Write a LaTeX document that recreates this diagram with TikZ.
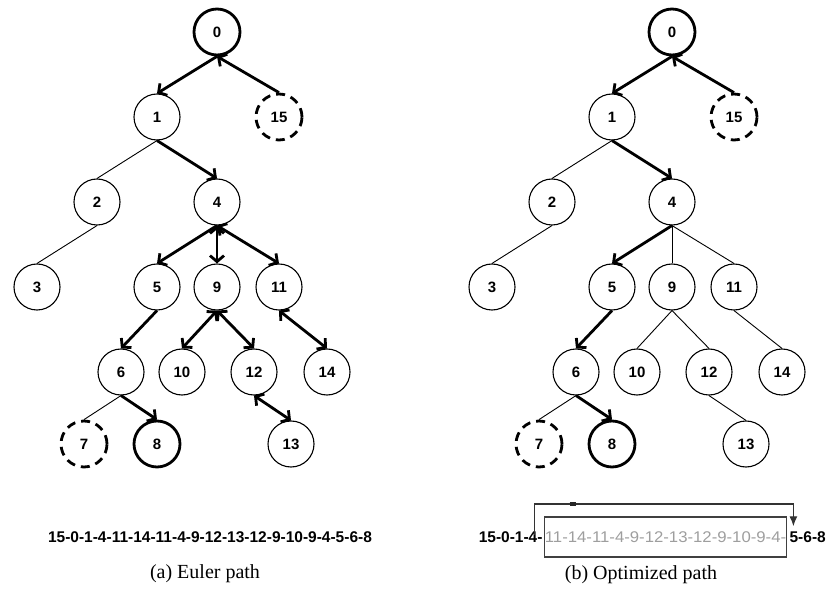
\documentclass[tikz,border=0pt]{standalone}
\usepackage{fontspec}
\usepackage{graphicx}
\setmainfont{Liberation Serif}
\setsansfont{Liberation Sans}
\usetikzlibrary{arrows.meta,calc}

% vertex positions of the tree (shared by both panels)
\newcommand\placevertices{%
  \node[heavy] (0)  at (217,32)  {0};
  \node[vtx]   (1)  at (157,117) {1};
  \node[ghost] (15) at (279,117) {15};
  \node[vtx]   (2)  at (97,202)  {2};
  \node[vtx]   (4)  at (217,202) {4};
  \node[vtx]   (3)  at (37,287)  {3};
  \node[vtx]   (5)  at (157,287) {5};
  \node[vtx]   (9)  at (217,287) {9};
  \node[vtx]   (11) at (279,287) {11};
  \node[vtx]   (6)  at (121,372) {6};
  \node[vtx]   (10) at (182,372) {10};
  \node[vtx]   (12) at (254,372) {12};
  \node[vtx]   (14) at (327,372) {14};
  \node[ghost] (7)  at (84,444)  {7};
  \node[heavy] (8)  at (157,444) {8};
  \node[vtx]   (13) at (291,444) {13};
}

\begin{document}
\begin{tikzpicture}[x=1pt,y=-1pt,
  vtx/.style={circle,draw,line width=1.1pt,minimum size=46pt,inner sep=0pt,
    font=\sffamily\bfseries\fontsize{15}{15}\selectfont},
  heavy/.style={vtx,line width=2.8pt},
  ghost/.style={vtx,line width=2.8pt,dash pattern=on 9pt off 6pt},
  tree/.style={line width=0.9pt},
  barb/.tip={Straight Barb[length=6pt,width=14pt]},
  walk/.style={line width=2.8pt,-barb},
  walkboth/.style={line width=2.8pt,barb-barb},
  seqb/.style={inner sep=0pt,font=\sffamily\bfseries\fontsize{15.5}{18}\selectfont},
  seqg/.style={inner sep=0pt,text=black!38,font=\sffamily\fontsize{15.5}{18}\selectfont},
  caption/.style={inner sep=0pt,font=\fontsize{20}{24}\selectfont},
]
\useasboundingbox (0,0) rectangle (827,593);

% ---------- (a) Euler path ----------
\begin{scope}[name prefix=L-]
  \placevertices
\end{scope}
\draw[walk]     (L-15.north) -- (L-0.south);
\draw[walk]     (L-0.south)  -- (L-1.north);
\draw[walk]     (L-1.south)  -- (L-4.north);
\draw[tree]     (L-1.south)  -- (L-2.north);
\draw[tree]     (L-2.south)  -- (L-3.north);
\draw[walk]     (L-4.south)  -- (L-5.north);
\draw[walkboth] (L-4.south)  -- (L-9.north);
\draw[walkboth] (L-4.south)  -- (L-11.north);
\draw[walk]     (L-5.south)  -- (L-6.north);
\draw[walkboth] (L-9.south)  -- (L-10.north);
\draw[walkboth] (L-9.south)  -- (L-12.north);
\draw[walkboth] (L-11.south) -- (L-14.north);
\draw[walkboth] (L-12.south) -- (L-13.north);
\draw[tree]     (L-6.south)  -- (L-7.north);
\draw[walk]     (L-6.south)  -- (L-8.north);

\node[seqb] (eseq) at (210,537) {15-0-1-4-11-14-11-4-9-12-13-12-9-10-9-4-5-6-8};
\node[caption] (capa) at (205,574) {(a) Euler path};

% ---------- (b) Optimized path ----------
\begin{scope}[xshift=455pt,name prefix=R-]
  \placevertices
\end{scope}
\draw[walk] (R-15.north) -- (R-0.south);
\draw[walk] (R-0.south)  -- (R-1.north);
\draw[walk] (R-1.south)  -- (R-4.north);
\draw[tree] (R-1.south)  -- (R-2.north);
\draw[tree] (R-2.south)  -- (R-3.north);
\draw[walk] (R-4.south)  -- (R-5.north);
\draw[tree] (R-4.south)  -- (R-9.north);
\draw[tree] (R-4.south)  -- (R-11.north);
\draw[walk] (R-5.south)  -- (R-6.north);
\draw[tree] (R-9.south)  -- (R-10.north);
\draw[tree] (R-9.south)  -- (R-12.north);
\draw[tree] (R-11.south) -- (R-14.north);
\draw[tree] (R-12.south) -- (R-13.north);
\draw[tree] (R-6.south)  -- (R-7.north);
\draw[walk] (R-6.south)  -- (R-8.north);

\node[seqb,anchor=east] (tail) at (826,537) {5-6-8};
\node[seqg,anchor=east,draw=black!75,line width=1.4pt,minimum height=40pt,
      inner xsep=0.5pt] (skip) at ([xshift=-2pt]tail.west)
  {\scalebox{1.08}[1]{11-14-11-4-9-12-13-12-9-10-9-4-}};
\node[seqb,anchor=east] (head) at ([xshift=-1pt]skip.west) {15-0-1-4-};
\coordinate (jumpfrom) at ([xshift=-9pt,yshift=2pt]skip.west);
\coordinate (jumpto) at ([xshift=4pt,yshift=5pt]tail.north west);
\draw[line width=1.3pt,black!80,-{Latex[length=10pt,width=8pt]}]
  (jumpfrom) -- ++(0,-31) -| (jumpto);
\draw[line width=3.5pt,black!85] ([xshift=35pt,yshift=31pt]jumpfrom.center) -- ++(6,0);
\node[caption] (capb) at (641,575) {(b) Optimized path};
\end{tikzpicture}
\end{document}
